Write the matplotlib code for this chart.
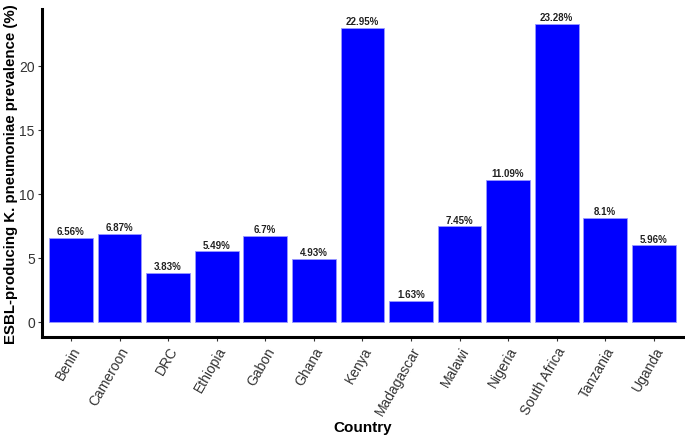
import numpy as np
import matplotlib
matplotlib.use("Agg")
import matplotlib.pyplot as plt

plt.rcParams['font.family'] = ['Liberation Sans', 'DejaVu Sans']

# datos
countries = ['Benin', 'Cameroon', 'DRC', 'Ethiopia', 'Gabon', 'Ghana', 'Kenya',
             'Madagascar', 'Malawi', 'Nigeria', 'South Africa', 'Tanzania', 'Uganda']
prevalence = [6.56, 6.87, 3.83, 5.49, 6.7, 4.93, 22.95, 1.63, 7.45, 11.09, 23.28, 8.1, 5.96]
labels = ['6.56%', '6.87%', '3.83%', '5.49%', '6.7%', '4.93%', '22.95%',
          '1.63%', '7.45%', '11.09%', '23.28%', '8.1%', '5.96%']

fig = plt.figure(figsize=(6.85, 4.39), dpi=100)
ax = fig.add_axes([0.061, 0.23, 0.936, 0.747])

x = np.arange(len(countries))
ax.bar(x, prevalence, width=0.9, color='#0000FF', edgecolor='#9999FF', linewidth=0.6)
for xi, v, lab in zip(x, prevalence, labels):
    ax.text(xi, v + 0.15, lab, ha='center', va='bottom', fontsize=7,
            fontweight='bold', color='#222222')

ax.set_xlim(-0.6, len(countries) - 0.4)
ax.set_ylim(-1.2, 24.45)
ax.set_yticks([0, 5, 10, 15, 20])
ax.set_xticks(x)
ax.set_xticklabels(countries, rotation=60, ha='right', rotation_mode='anchor')
ax.tick_params(axis='both', labelsize=10, colors='#333333', length=3, pad=2)
ax.tick_params(axis='both', labelcolor='#333333')

for s in ['top', 'right']:
    ax.spines[s].set_visible(False)
for s in ['left', 'bottom']:
    ax.spines[s].set_linewidth(2.2)
    ax.spines[s].set_color('black')

ax.set_xlabel('Country', fontsize=11, fontweight='bold')
ax.xaxis.set_label_coords(0.5, -0.252)
ax.set_ylabel('ESBL-producing K. pneumoniae prevalence (%)', fontsize=10.8, fontweight='bold')
ax.yaxis.set_label_coords(-0.037, 0.5)

fig.savefig('out.png', dpi=100)
